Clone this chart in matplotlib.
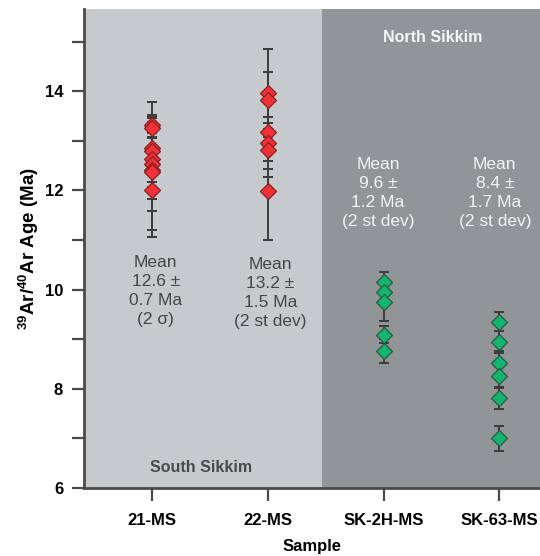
import matplotlib
matplotlib.use("Agg")
import matplotlib.pyplot as plt

plt.rcParams['font.family'] = ['Liberation Sans', 'DejaVu Sans']
plt.rcParams['mathtext.fontset'] = 'custom'
plt.rcParams['mathtext.rm'] = 'Liberation Sans:bold'
plt.rcParams['mathtext.it'] = 'Liberation Sans:bold'
plt.rcParams['mathtext.bf'] = 'Liberation Sans:bold'

# sample names and x positions
samples = ['21-MS', '22-MS', 'SK-2H-MS', 'SK-63-MS']

# ages (Ma) and 1-sided errors
ages_21 = [13.32, 13.27, 12.86, 12.80, 12.63, 12.53, 12.42, 12.37, 12.00]
errs_21 = [0.15, 0.12, 0.22, 0.25, 0.55, 0.95, 1.36, 1.16, 0.17]

ages_22 = [13.97, 13.82, 13.18, 12.96, 12.82, 11.98]
errs_22 = [0.89, 0.57, 0.59, 0.53, 0.54, 0.98]

ages_2h = [10.15, 9.95, 9.76, 9.09, 8.77]
errs_2h = [0.21, 0.20, 0.39, 0.17, 0.24]

ages_63 = [9.35, 8.95, 8.52, 8.26, 7.81, 7.00]
errs_63 = [0.19, 0.22, 0.25, 0.24, 0.22, 0.26]

mean_labels = ['Mean\n12.6 \u00b1\n0.7 Ma\n(2 \u03c3)',
               'Mean\n13.2 \u00b1\n1.5 Ma\n(2 st dev)',
               'Mean\n9.6 \u00b1\n1.2 Ma\n(2 st dev)',
               'Mean\n8.4 \u00b1\n1.7 Ma\n(2 st dev)']
mean_label_x = [1.03, 2.02, 2.95, 3.96]
mean_label_y = [10.70, 10.66, 12.68, 12.68]

groups = [(ages_21, errs_21, '#f03238', '#8a1f22'),
          (ages_22, errs_22, '#f03238', '#8a1f22'),
          (ages_2h, errs_2h, '#12b46f', '#2c5a40'),
          (ages_63, errs_63, '#12b46f', '#2c5a40')]

fig = plt.figure(figsize=(5.4, 5.56), dpi=100)
ax = fig.add_axes([0.1556, 0.1223, 0.8444, 0.8615])

ax.axvspan(0.41, 2.47, color='#c7cacd', zorder=0, lw=0)
ax.axvspan(2.47, 4.35, color='#929598', zorder=0, lw=0)

for i, (ages, errs, fc, ec) in enumerate(groups):
    x = [i + 1] * len(ages)
    ax.errorbar(x, ages, yerr=errs, fmt='none', ecolor='#3c3c3c',
                elinewidth=1.4, capsize=3.8, capthick=1.4, zorder=2)
    ax.plot(x, ages, linestyle='none', marker='D', markersize=8.5,
            markerfacecolor=fc, markeredgecolor=ec, markeredgewidth=0.9,
            zorder=3)

text_colors = ['#464646', '#464646', '#f2f2f2', '#f2f2f2']
for i, lab in enumerate(mean_labels):
    ax.text(mean_label_x[i], mean_label_y[i], lab, ha='center', va='top',
            fontsize=12.5, color=text_colors[i], linespacing=1.33, zorder=4)

ax.text(1.42, 6.42, 'South Sikkim', ha='center', va='center',
        fontsize=11.5, fontweight='bold', color='#4a4a4a')
ax.text(3.42, 15.08, 'North Sikkim', ha='center', va='center',
        fontsize=11.5, fontweight='bold', color='#f5f5f5')

ax.set_xlim(0.41, 4.35)
ax.set_ylim(6, 15.66)
ax.set_xticks([1, 2, 3, 4])
ax.set_xticklabels(samples, fontweight='bold', fontsize=12)
ax.set_yticks([6, 8, 10, 12, 14])
ax.set_yticks([7, 9, 11, 13, 15], minor=True)
ax.set_yticklabels(['6', '8', '10', '12', '14'], fontweight='bold', fontsize=12)

ax.tick_params(axis='both', which='both', length=9, width=1.6,
               color='#4a4a4a', pad=6)
ax.tick_params(axis='x', pad=9)
for side in ['top', 'right']:
    ax.spines[side].set_visible(False)
for side in ['left', 'bottom']:
    ax.spines[side].set_color('#4a4a4a')
    ax.spines[side].set_linewidth(2.0)

ax.set_xlabel('Sample', fontweight='bold', fontsize=12, labelpad=8)
ax.set_ylabel(r'$^{39}$Ar/$^{40}$Ar Age (Ma)', fontweight='bold',
              fontsize=13.5, labelpad=3)

fig.savefig('out.png', dpi=100)
